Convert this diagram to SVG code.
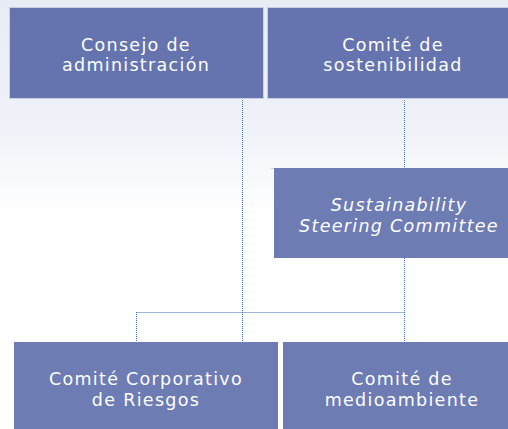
<svg xmlns="http://www.w3.org/2000/svg" width="508" height="429" viewBox="0 0 508 429">
<defs>
<linearGradient id="bg" x1="0" y1="0" x2="0" y2="1">
<stop offset="0" stop-color="#e8ecf4"/>
<stop offset="0.3" stop-color="#eff2f8"/>
<stop offset="0.5" stop-color="#ffffff"/>
<stop offset="1" stop-color="#ffffff"/>
</linearGradient>
<style>
.box{fill:#6574ae;stroke:#c9cfe3;stroke-width:1}
.box2{fill:#6e7cb4}
.t{font-family:"DejaVu Sans","Noto Sans",sans-serif;font-size:17.5px;fill:#ffffff;text-anchor:middle;letter-spacing:1.3px}
.ti{font-style:italic}
.c{fill:none;stroke:#3d6db3;stroke-width:1;stroke-dasharray:1 1}
</style>
</defs>
<rect x="0" y="0" width="508" height="429" fill="url(#bg)"/>
<g id="connectors">
<path class="c" d="M242.5 98 V341"/>
<path class="c" d="M404.5 98 V168"/>
<path class="c" d="M404.5 258 V341"/>
<path class="c" d="M136.5 312.5 H404.5"/>
<path class="c" d="M136.5 312 V341"/>
</g>
<g id="consejo">
<rect class="box" x="9.5" y="7.5" width="254" height="91"/>
<text class="t" x="136" y="51">Consejo de</text>
<text class="t" x="136" y="71">administración</text>
</g>
<g id="sostenibilidad">
<rect class="box" x="267.5" y="7.5" width="252" height="91"/>
<text class="t" x="393" y="51">Comité de</text>
<text class="t" x="393" y="71">sostenibilidad</text>
</g>
<g id="steering">
<rect class="box2" x="274" y="168" width="250" height="90"/>
<line x1="271" y1="168.5" x2="274" y2="168.5" stroke="#c9cfe3"/>
<text class="t ti" x="399" y="211">Sustainability</text>
<text class="t ti" x="399" y="232">Steering Committee</text>
</g>
<g id="riesgos">
<rect class="box2" x="14" y="342" width="264" height="90"/>
<text class="t" x="146" y="385">Comité Corporativo</text>
<text class="t" x="146" y="406">de Riesgos</text>
</g>
<g id="medioambiente">
<rect class="box2" x="283" y="342" width="240" height="90"/>
<text class="t" x="402" y="385">Comité de</text>
<text class="t" x="402" y="406">medioambiente</text>
</g>
</svg>
